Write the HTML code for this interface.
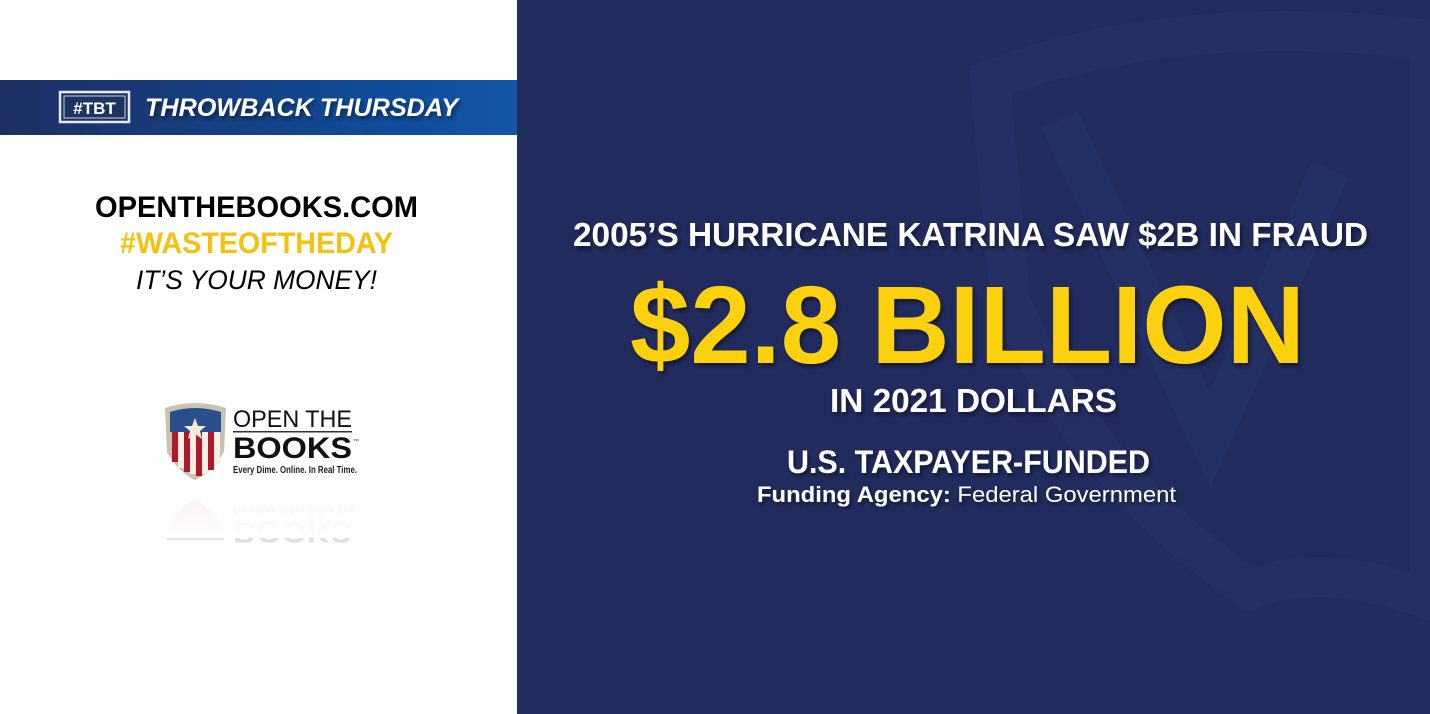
<!DOCTYPE html>
<html><head><meta charset="utf-8"><style>
html,body{margin:0;padding:0;width:1430px;height:714px;overflow:hidden;background:#fff}
svg{display:block}
</style></head><body>
<svg width="1430" height="714" viewBox="0 0 1430 714" xmlns="http://www.w3.org/2000/svg" font-family="Liberation Sans, sans-serif">
<defs>
<linearGradient id="bn" x1="0" x2="1"><stop offset="0" stop-color="#1d2f62"/><stop offset="0.8" stop-color="#0f4e9e"/><stop offset="1" stop-color="#1456a6"/></linearGradient>
<linearGradient id="refl" x1="0" y1="0" x2="0" y2="1"><stop offset="0" stop-color="#fff" stop-opacity="0.4"/><stop offset="1" stop-color="#fff" stop-opacity="1"/></linearGradient>
<filter id="sh"><feDropShadow dx="2" dy="3" stdDeviation="2" flood-color="#000" flood-opacity="0.45"/></filter>
</defs>
<rect x="0" y="0" width="517" height="714" fill="#fff"/>
<rect x="517" y="0" width="913" height="714" fill="#212b5e"/>
<path d="M990 80 Q1180 10 1430 40 L1430 600 Q1320 560 1250 590 Q1080 470 1010 300 Z" fill="none" stroke="#293468" stroke-width="40" opacity="0.5"/>
<path d="M1060 120 L1210 440 L1330 170" fill="none" stroke="#283367" stroke-width="40" opacity="0.5"/>
<rect x="0" y="80" width="517" height="55" fill="url(#bn)"/>
<rect x="60" y="92" width="69" height="30" fill="#1d3364" stroke="#e8eaf0" stroke-width="2.5"/>
<rect x="64" y="96" width="61" height="22" fill="none" stroke="#c9cdd8" stroke-width="1"/>
<text x="94.5" y="114" text-anchor="middle" font-size="17" font-weight="bold" fill="#fff">#TBT</text>
<text x="145" y="116" font-size="25" font-weight="bold" font-style="italic" fill="#fff" textLength="313" lengthAdjust="spacingAndGlyphs" filter="url(#sh)">THROWBACK THURSDAY</text>
<text x="95" y="217" font-size="30" font-weight="bold" fill="#000" textLength="323" lengthAdjust="spacingAndGlyphs">OPENTHEBOOKS.COM</text>
<text x="120" y="253" font-size="30" font-weight="bold" fill="#f4c20d" textLength="273" lengthAdjust="spacingAndGlyphs">#WASTEOFTHEDAY</text>
<text x="136" y="289" font-size="27" font-style="italic" fill="#000" textLength="241" lengthAdjust="spacingAndGlyphs">IT’S YOUR MONEY!</text>
<g>
<path d="M165 408 Q195 398 226 408 L224 452 Q212 472 195 480 Q178 472 167 452 Z" fill="#c8c2b0"/>
<path d="M170 412 Q195 404 221 412 L221 432 L170 432 Z" fill="#2a4f8f"/>
<g fill="#b0182a"><rect x="172" y="432" width="6" height="30"/><rect x="184" y="432" width="6" height="40"/><rect x="196" y="432" width="6" height="44"/><rect x="208" y="432" width="6" height="38"/></g>
<g fill="#f4f0e6"><rect x="178" y="432" width="6" height="36"/><rect x="190" y="432" width="6" height="42"/><rect x="202" y="432" width="6" height="42"/><rect x="214" y="432" width="6" height="32"/></g>
<polygon points="195,418 198,426 206,426 200,431 202,439 195,434 188,439 190,431 184,426 192,426" fill="#f0ead8"/>
<text x="233" y="427" font-size="24" fill="#111" textLength="119" lengthAdjust="spacingAndGlyphs">OPEN THE</text>
<rect x="233" y="431" width="119" height="1.5" fill="#333"/>
<text x="233" y="458" font-size="30" font-weight="bold" fill="#111" textLength="119" lengthAdjust="spacingAndGlyphs">BOOKS</text>
<text x="353" y="443" font-size="6" fill="#333">™</text>
<text x="233" y="473" font-size="10.5" font-weight="bold" fill="#222" textLength="124" lengthAdjust="spacingAndGlyphs">Every Dime. Online. In Real Time.</text>
<g opacity="0.13" transform="translate(0,980) scale(1,-1)">
<text x="233" y="473" font-size="10.5" font-weight="bold" fill="#222" textLength="124" lengthAdjust="spacingAndGlyphs">Every Dime. Online. In Real Time.</text>
<text x="233" y="458" font-size="30" font-weight="bold" fill="#111" textLength="119" lengthAdjust="spacingAndGlyphs">BOOKS</text>
<path d="M167 452 Q178 472 195 480 Q212 472 224 452 L224 440 L167 440Z" fill="#b0182a"/>
</g>
<rect x="150" y="488" width="230" height="50" fill="url(#refl)"/>
</g>
<g fill="#fff" font-weight="bold" filter="url(#sh)">
<text x="573" y="246" font-size="33" textLength="795" lengthAdjust="spacingAndGlyphs">2005’S HURRICANE KATRINA SAW $2B IN FRAUD</text>
<text x="630" y="363" font-size="110" fill="#fdd10b" textLength="675" lengthAdjust="spacingAndGlyphs">$2.8 BILLION</text>
<text x="830" y="412" font-size="33" textLength="287" lengthAdjust="spacingAndGlyphs">IN 2021 DOLLARS</text>
<text x="787" y="473" font-size="32" textLength="363" lengthAdjust="spacingAndGlyphs">U.S. TAXPAYER-FUNDED</text>
</g>
<text x="757" y="502" font-size="22" fill="#fff" textLength="419" lengthAdjust="spacingAndGlyphs" filter="url(#sh)"><tspan font-weight="bold">Funding Agency:</tspan> Federal Government</text>
</svg>
</body></html>
